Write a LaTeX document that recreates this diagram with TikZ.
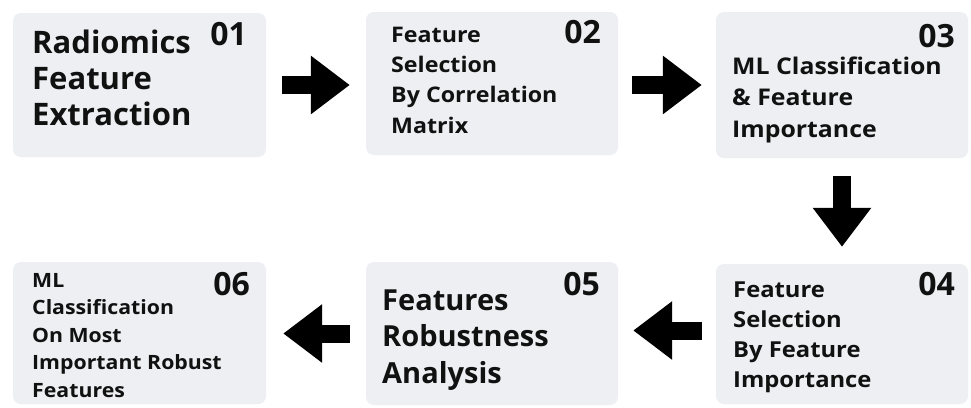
\documentclass[tikz,border=0pt]{standalone}
\usepackage{fontspec}
\setmainfont{Open Sans}
\newfontfamily\widesans{Open Sans}[FakeStretch=1.08]
\usetikzlibrary{arrows.meta}
\definecolor{boxfill}{HTML}{EDEFF2}
\definecolor{ink}{HTML}{111111}
\tikzset{
  stepbox/.style={fill=boxfill, draw=none, rounded corners=8pt, inner sep=0pt},
  num/.style={anchor=base east, inner sep=0pt, text=ink, font=\bfseries\fontsize{32}{36}\selectfont},
  txt/.style={anchor=base west, inner sep=0pt, text=ink, align=left},
  bigarrow/.style={draw=black, line width=18pt, line cap=butt, -{Triangle[length=39pt,width=56pt]}}
}
\begin{document}
\begin{tikzpicture}[x=1pt,y=-1pt]
\useasboundingbox (0,0) rectangle (971,407);
\fill[white] (0,0) rectangle (971,407);
% boxes
\node[stepbox, minimum width=253pt, minimum height=144pt] (b1) at (139.5,85) {};
\node[stepbox, minimum width=252pt, minimum height=143pt] (b2) at (492,83.5) {};
\node[stepbox, minimum width=252pt, minimum height=146pt] (b3) at (842,85) {};
\node[stepbox, minimum width=252pt, minimum height=140pt] (b4) at (842,334) {};
\node[stepbox, minimum width=252pt, minimum height=143pt] (b5) at (492,333.5) {};
\node[stepbox, minimum width=253pt, minimum height=142pt] (b6) at (139.5,333) {};
% texts (anchor = baseline of last line)
\node[txt, font=\bfseries\fontsize{31}{36}\selectfont] (t1) at (32,125) {Radiomics\\Feature\\Extraction};
\node[txt, font=\widesans\bfseries\fontsize{21.5}{30.3}\selectfont] (t2) at (391,133) {Feature\\Selection\\By Correlation\\Matrix};
\node[txt, font=\widesans\bfseries\fontsize{23}{31.5}\selectfont] (t3) at (732,137) {ML Classification\\\& Feature\\Importance};
\node[txt, font=\widesans\bfseries\fontsize{22}{30}\selectfont] (t4) at (733,387) {Feature\\Selection\\By Feature\\Importance};
\node[txt, font=\bfseries\fontsize{29}{36.5}\selectfont] (t5) at (382,383) {Features\\Robustness\\Analysis};
\node[txt, font=\widesans\bfseries\fontsize{19.7}{27.5}\selectfont] (t6) at (32,397) {ML\\Classification\\On Most\\Important Robust\\Features};
% numbers
\node[num] (n1) at (247,45) {01};
\node[num] (n2) at (601,43) {02};
\node[num] (n3) at (955,47) {03};
\node[num] (n4) at (955,295) {04};
\node[num] (n5) at (600,295) {05};
\node[num] (n6) at (250,295) {06};
% arrows
\draw[bigarrow, shorten <=16pt, shorten >=16pt] (b1.east) -- (b1.east -| b2.west);
\draw[bigarrow, shorten <=14pt, shorten >=14pt] (b2.east |- b3.west) -- (b3.west);
\draw[bigarrow, shorten <=18pt, shorten >=17pt] (b3.south) -- (b3.south |- b4.north);
\coordinate (c4) at ([yshift=3.5pt]b4.west);
\draw[bigarrow, shorten <=14pt, shorten >=15pt] (c4) -- (c4 -| b5.east);
\draw[bigarrow, shorten <=16pt, shorten >=17pt] (b5.west) -- (b5.west -| b6.east);
\end{tikzpicture}
\end{document}
